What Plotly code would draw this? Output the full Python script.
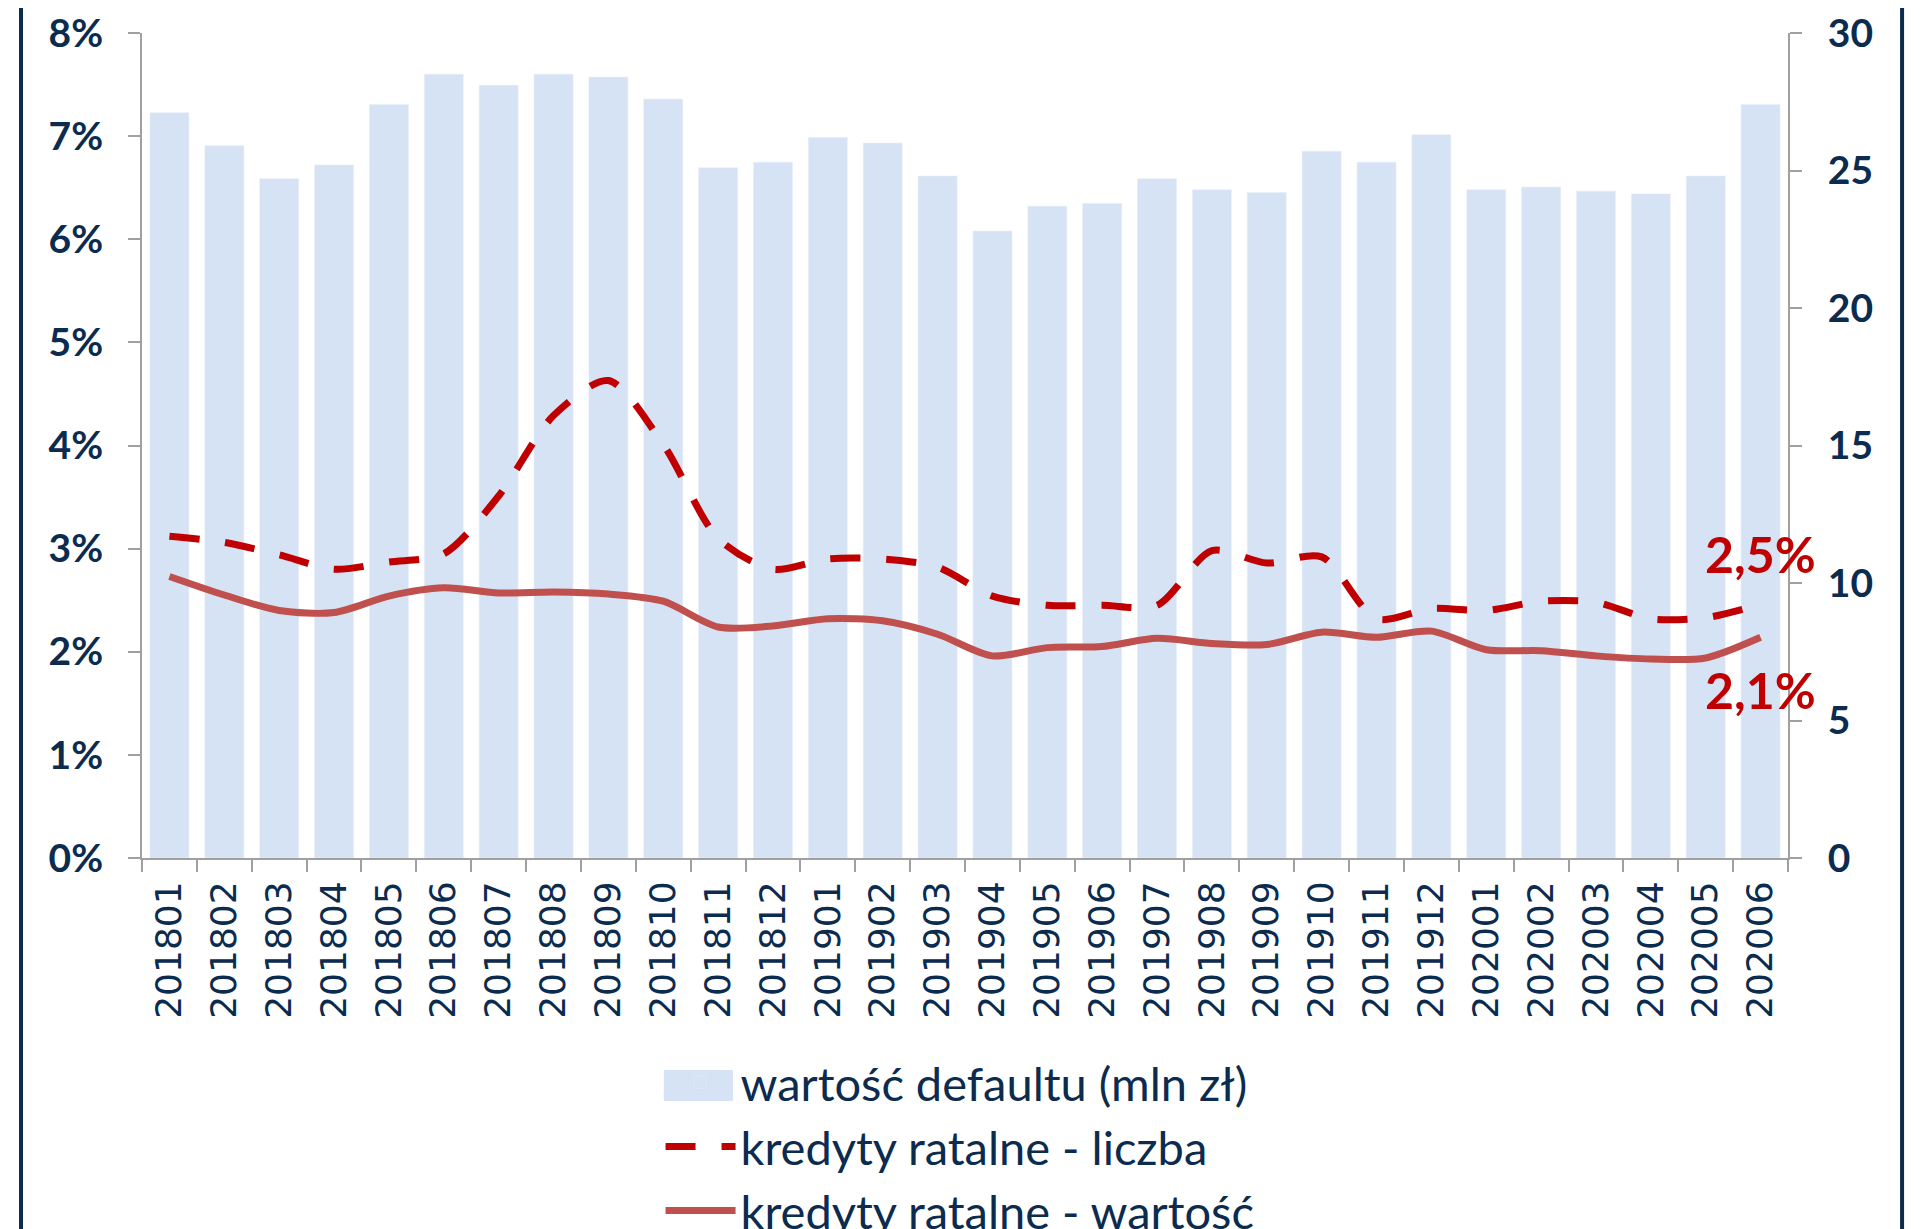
import plotly.graph_objects as go

# dane z wykresu
miesiace = ["201801", "201802", "201803", "201804", "201805", "201806", "201807", "201808",
            "201809", "201810", "201811", "201812", "201901", "201902", "201903", "201904",
            "201905", "201906", "201907", "201908", "201909", "201910", "201911", "201912",
            "202001", "202002", "202003", "202004", "202005", "202006"]

wartosc_defaultu = [27.1, 25.9, 24.7, 25.2, 27.4, 28.5, 28.1, 28.5, 28.4, 27.6,
                    25.1, 25.3, 26.2, 26.0, 24.8, 22.8, 23.7, 23.8, 24.7, 24.3,
                    24.2, 25.7, 25.3, 26.3, 24.3, 24.4, 24.25, 24.15, 24.8, 27.4]

ratalne_liczba = [0.0312, 0.0306, 0.0294, 0.0280, 0.0287, 0.0295, 0.0351, 0.0429, 0.0463, 0.0401,
                  0.0310, 0.0280, 0.0290, 0.0290, 0.0282, 0.0254, 0.0245, 0.0245, 0.0245, 0.0298,
                  0.0286, 0.0292, 0.0232, 0.0242, 0.0240, 0.0249, 0.0248, 0.0232, 0.0233, 0.0246]

ratalne_wartosc = [0.0273, 0.0255, 0.0240, 0.0238, 0.0254, 0.0262, 0.0257, 0.0258, 0.0256, 0.0249,
                   0.0224, 0.0225, 0.0232, 0.0230, 0.0217, 0.0196, 0.0204, 0.0205, 0.0213, 0.0208,
                   0.0207, 0.0219, 0.0214, 0.0220, 0.0202, 0.0201, 0.0196, 0.0193, 0.0194, 0.0214]

granat = "#0B2B4F"
szary = "#A0A0A0"
niebieski = "#D6E3F4"


def etykieta(v):
    return f"{v * 100:.1f}%".replace(".", ",")


fig = go.Figure()

# słupki na osi prawej (y), linie na lewej (y2) - żeby linie były nad słupkami
fig.add_trace(go.Bar(
    x=miesiace, y=wartosc_defaultu,
    name="wartość defaultu (mln zł)",
    marker=dict(color=niebieski),
    yaxis="y"
))

fig.add_trace(go.Scatter(
    x=miesiace, y=ratalne_liczba,
    name="kredyty ratalne - liczba",
    mode="lines",
    line=dict(color="#C00000", width=7, dash="30px,26px", shape="spline", smoothing=0.8),
    yaxis="y2"
))

fig.add_trace(go.Scatter(
    x=miesiace, y=ratalne_wartosc,
    name="kredyty ratalne - wartość",
    mode="lines",
    line=dict(color="#C0504D", width=7, shape="spline", smoothing=0.8),
    yaxis="y2"
))

# na osi kategorii adnotacja potrzebuje numeru kategorii, nie tekstu "202006"
ostatni = len(miesiace) - 1
annotations = [
    dict(x=ostatni, y=ratalne_liczba[-1], xref="x", yref="y2",
         text=etykieta(ratalne_liczba[-1]), showarrow=False, yshift=50,
         font=dict(family="Lato", size=50, color="#C00000", weight="bold")),
    dict(x=ostatni, y=ratalne_wartosc[-1], xref="x", yref="y2",
         text=etykieta(ratalne_wartosc[-1]), showarrow=False, yshift=-53,
         font=dict(family="Lato", size=50, color="#C00000", weight="bold")),
]

# ramka (tylko boki widoczne) + większy kwadrat legendy dla słupków
shapes = [
    dict(type="line", xref="paper", yref="paper", x0=-0.0735, x1=-0.0735, y0=-1, y1=2,
         line=dict(color=granat, width=4)),
    dict(type="line", xref="paper", yref="paper", x0=1.0693, x1=1.0693, y0=-1, y1=2,
         line=dict(color=granat, width=4)),
    dict(type="rect", xref="paper", yref="paper", x0=0.317, x1=0.359, y0=-0.257, y1=-0.2945,
         fillcolor=niebieski, line=dict(width=0)),
]

fig.update_layout(
    width=1922, height=1229,
    margin=dict(l=134, r=142, t=25, b=379, autoexpand=False),
    paper_bgcolor="white", plot_bgcolor="white",
    bargap=0.29,
    showlegend=True,
    legend=dict(
        orientation="v", x=0.497, xanchor="center", y=-0.227, yanchor="top",
        font=dict(family="Lato", size=47, color=granat),
        itemwidth=70, tracegroupgap=0, bgcolor="rgba(0,0,0,0)"
    ),
    xaxis=dict(
        type="category", range=[-0.5, len(miesiace) - 0.5], autorange=False,
        tickangle=-90, tickson="boundaries",
        ticks="outside", ticklen=12, tickcolor=szary, tickwidth=2,
        showline=True, linecolor=szary, linewidth=2,
        showgrid=False, ticklabelstandoff=7,
        tickfont=dict(family="DejaVu Sans", size=36, color=granat),
    ),
    yaxis=dict(
        side="right", range=[0, 30], dtick=5,
        ticks="outside", ticklen=12, tickcolor=szary, tickwidth=2,
        showline=True, linecolor=szary, linewidth=2,
        showgrid=False, zeroline=False, ticklabelstandoff=18,
        tickfont=dict(family="Lato", size=39, color=granat, weight="bold"),
    ),
    yaxis2=dict(
        overlaying="y", side="left", range=[0, 0.08], dtick=0.01, tickformat=".0%",
        ticks="outside", ticklen=12, tickcolor=szary, tickwidth=2,
        showline=True, linecolor=szary, linewidth=2,
        showgrid=False, zeroline=False, ticklabelstandoff=17,
        tickfont=dict(family="Lato", size=39, color=granat, weight="bold"),
    ),
    annotations=annotations,
    shapes=shapes,
)

fig.write_html("out.html")
